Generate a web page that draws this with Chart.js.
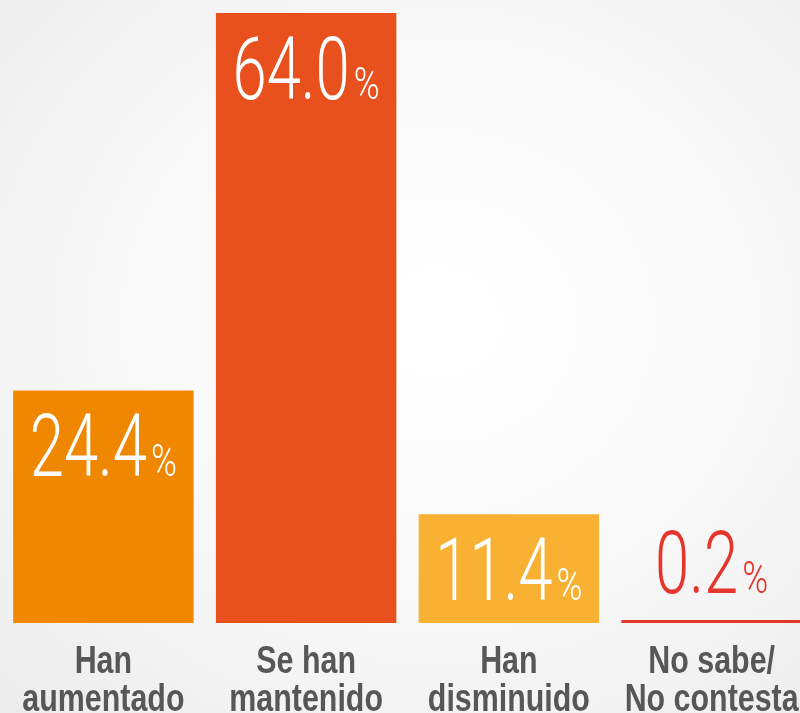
<!DOCTYPE html>
<html>
<head>
<meta charset="utf-8">
<script src="https://cdn.jsdelivr.net/npm/chart.js@4.4.1/dist/chart.umd.min.js"></script>
<style>
  html, body { margin:0; padding:0; width:800px; height:713px; overflow:hidden; }
  body { background: radial-gradient(ellipse at 55% 45%, #ffffff 0%, #fafafa 45%, #ececec 100%); }
  #wrap { position:absolute; left:2px; top:0; width:811px; height:713px; }
</style>
</head>
<body>
<div id="wrap"><canvas id="chart"></canvas></div>
<script>
const categories = [['Han', 'aumentado'], ['Se han', 'mantenido'], ['Han', 'disminuido'], ['No sabe/', 'No contesta']];
const values = [24.4, 64.0, 11.4, 0.2];
const barColors = ['#F08700', '#E8501E', '#F8B133', '#E5352D'];

// value labels (big thin number + small %) and condensed category labels
const labelsPlugin = {
  id: 'labelsPlugin',
  afterDatasetsDraw(chart) {
    const ctx = chart.ctx;
    const meta = chart.getDatasetMeta(0);
    const area = chart.chartArea;
    const sx = 0.70, sxPct = 0.78;
    meta.data.forEach((bar, i) => {
      const v = values[i];
      const num = v.toFixed(1);
      const inside = v > 5;
      const baseline = inside ? bar.y + 86 : bar.y - 27;
      ctx.save();
      ctx.fillStyle = inside ? '#ffffff' : '#E5352D';
      ctx.textBaseline = 'alphabetic';
      ctx.textAlign = 'left';
      const bigFont = '300 88px Roboto';
      const smallFont = '300 45px Roboto';
      ctx.font = bigFont;
      const wNum = ctx.measureText(num).width * sx;
      ctx.font = smallFont;
      const wPct = ctx.measureText('%').width * sxPct;
      const gap = 4;
      const x0 = bar.x - (wNum + gap + wPct) / 2;
      ctx.save();
      ctx.translate(x0, baseline);
      ctx.scale(sx, 1);
      ctx.font = bigFont;
      ctx.fillText(num, 0, 0);
      ctx.restore();
      ctx.translate(x0 + wNum + gap, baseline);
      ctx.scale(sxPct, 1);
      ctx.font = smallFont;
      ctx.fillText('%', 0, 0);
      ctx.restore();

      // category label, two lines
      const cx = 0.80;
      ctx.save();
      ctx.fillStyle = '#575757';
      ctx.font = 'bold 38px "Liberation Sans", Arial, sans-serif';
      ctx.textAlign = 'center';
      ctx.textBaseline = 'alphabetic';
      categories[i].forEach((line, j) => {
        ctx.save();
        ctx.translate(bar.x, area.bottom + 50 + j * 38);
        ctx.scale(cx, 1);
        ctx.fillText(line, 0, 0);
        ctx.restore();
      });
      ctx.restore();
    });
  }
};

new Chart(document.getElementById('chart'), {
  type: 'bar',
  data: {
    labels: categories.map(c => c.join(' ')),
    datasets: [{
      data: values,
      backgroundColor: barColors,
      borderWidth: 0,
      barPercentage: 0.89,
      categoryPercentage: 1,
      minBarLength: 3
    }]
  },
  options: {
    responsive: true,
    maintainAspectRatio: false,
    animation: false,
    layout: { padding: { top: 13, left: 0, right: 0, bottom: 90 } },
    plugins: { legend: { display: false }, tooltip: { enabled: false } },
    scales: {
      x: {
        display: false
      },
      y: {
        display: false,
        min: 0,
        max: 64
      }
    }
  },
  plugins: [labelsPlugin]
});
</script>
</body>
</html>
